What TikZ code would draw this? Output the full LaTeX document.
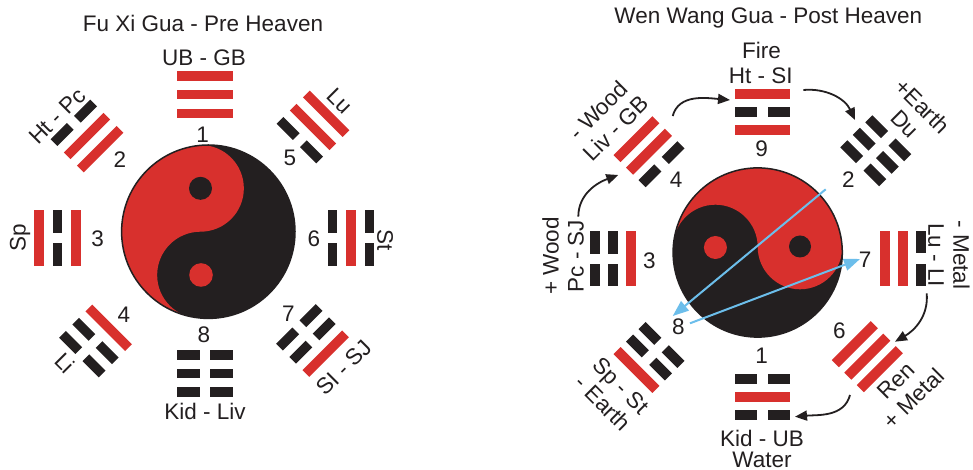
\documentclass[tikz,border=0pt]{standalone}
\usepackage{fontspec}
\setmainfont{Liberation Sans}
\usetikzlibrary{arrows.meta}
\definecolor{yangc}{RGB}{216,48,45}
\definecolor{yinc}{RGB}{35,31,32}
\definecolor{bluec}{RGB}{108,190,235}
\def\trgS{18.6}\def\trgT{4.75}\def\trgL{28}\def\trgG{5}
\newcommand{\trgbar}[2]{%
 \ifnum#2=1
  \fill[yangc] (-\trgL,{#1-\trgT}) -- (\trgL,{#1-\trgT}) -- (\trgL,{#1+\trgT}) -- (-\trgL,{#1+\trgT}) -- cycle;
 \else
  \fill[yinc] (-\trgL,{#1-\trgT}) -- (-\trgG,{#1-\trgT}) -- (-\trgG,{#1+\trgT}) -- (-\trgL,{#1+\trgT}) -- cycle;
  \fill[yinc] (\trgG,{#1-\trgT}) -- (\trgL,{#1-\trgT}) -- (\trgL,{#1+\trgT}) -- (\trgG,{#1+\trgT}) -- cycle;
 \fi}
\newcommand{\trigram}[6]{%
 \begin{scope}[shift={(#1,#2)},rotate=#3]
  \trgbar{-\trgS}{#4}\trgbar{0}{#5}\trgbar{\trgS}{#6}
 \end{scope}}
\begin{document}
\begin{tikzpicture}[x=1pt,y=1pt,
  lab/.style={font=\fontsize{22.5}{25}\selectfont, text=yinc, inner sep=0pt, align=center},
  blk/.style={draw=yinc, line width=1.8pt, -{Triangle[length=12pt,width=10pt]}},
  blu/.style={draw=bluec, line width=2pt, -{Triangle[length=16pt,width=12pt]}}]
\useasboundingbox (0,0) rectangle (973,470);
\fill[white] (0,0) rectangle (973,470);

% ---------- Left: Fu Xi Gua ----------
\begin{scope}
 \clip (208.3,238.3) circle (86.7);
 \fill[yinc] (208.3,238.3) circle (86.7);
 \fill[yangc] (200.5,325) arc[start angle=90,end angle=-90,radius=43.35]
   arc[start angle=90,end angle=270,radius=43.35] -- (100,151.6) -- (100,325) -- cycle;
\end{scope}
\fill[yinc] (200.5,281.65) circle (11.5);
\fill[yangc] (201,195) circle (11.8);
\draw[yinc, line width=1.5pt] (208.3,238.3) circle (86.7);

\trigram{204.5}{375.3}{0}{1}{1}{1}
\trigram{204.5}{96.5}{180}{0}{0}{0}
\trigram{57.5}{231.5}{90}{1}{0}{1}
\trigram{351}{231.5}{-90}{0}{1}{0}
\trigram{87}{334}{45}{1}{1}{0}
\trigram{313}{343}{-45}{0}{1}{1}
\trigram{95.5}{129}{135}{1}{0}{0}
\trigram{312.5}{129.5}{225}{0}{0}{1}

\node[lab] (t1) at (203,446.5) {Fu Xi Gua - Pre Heaven};
\node[lab] (l1) at (204,412.5) {UB - GB};
\node[lab] (l8) at (205,59) {Kid - Liv};
\node[lab,rotate=90] (l3) at (20,232) {Sp};
\node[lab,rotate=-90] (l6) at (385,230) {St};
\node[lab,rotate=45] (l2) at (57.3,354) {Ht - Pc};
\node[lab,rotate=-45] (l5) at (340,369.3) {Lu};
\node[lab,rotate=-45] (l4) at (65,107) {Li};
\node[lab,rotate=45] (l7) at (344,102.5) {SI - SJ};

\node[lab] (n1) at (202.7,335.7) {1};
\node[lab] (n2) at (120,310) {2};
\node[lab] (n3) at (97.7,231.7) {3};
\node[lab] (n4) at (124,155) {4};
\node[lab] (n5) at (290,311.7) {5};
\node[lab] (n6) at (314,231.7) {6};
\node[lab] (n7) at (288.3,156.7) {7};
\node[lab] (n8) at (204,135.7) {8};

% ---------- Right: Wen Wang Gua ----------
\begin{scope}
 \clip (757.7,217.5) circle (84.6);
 \fill[yinc] (757.7,217.5) circle (84.6);
 \fill[yangc] (842.3,223) arc[start angle=0,end angle=-180,radius=42.3]
   arc[start angle=0,end angle=180,radius=42.3] -- (673.1,330) -- (842.3,330) -- cycle;
\end{scope}
\fill[yinc] (800,223.5) circle (11);
\fill[yangc] (715.4,222.5) circle (11.5);
\draw[yinc, line width=1.5pt] (757.7,217.5) circle (84.6);

\def\trgS{17.7}\def\trgT{5}\def\trgL{27.5}\def\trgG{5.3}
\trigram{762.5}{358}{0}{1}{0}{1}
\trigram{762.5}{73}{180}{0}{1}{0}
\trigram{613}{211}{90}{1}{0}{0}
\trigram{903}{211.5}{-90}{1}{1}{0}
\trigram{649}{318.3}{45}{0}{1}{1}
\trigram{875.8}{319.2}{-45}{0}{0}{0}
\trigram{649}{112.5}{135}{0}{0}{1}
\trigram{867.3}{113.3}{225}{1}{1}{1}

\node[lab] (t2) at (768.3,451.7) {Wen Wang Gua - Post Heaven};
\node[lab] (r9a) at (761.5,419.2) {Fire};
\node[lab] (r9b) at (760.8,394.2) {Ht - SI};
\node[lab] (r1a) at (762,31.5) {Kid - UB};
\node[lab] (r1b) at (762,9.8) {Water};
\node[lab,rotate=45] (r4) at (607,350.7) {- Wood\\Liv - GB};
\node[lab,rotate=90] (r3) at (563,214) {+ Wood\\Pc - SJ};
\node[lab,rotate=-45] (r2) at (913.7,355) {+Earth\\Du};
\node[lab,rotate=-90] (r7) at (949,215) {- Metal\\Lu - LI};
\node[lab,rotate=45] (r6) at (905,80.3) {Ren\\+ Metal};
\node[lab,rotate=-45] (r8) at (612,75.5) {Sp - St\\- Earth};

\node[lab] (m9) at (761.7,321.7) {9};
\node[lab] (m2) at (848.3,290) {2};
\node[lab] (m4) at (676,290) {4};
\node[lab] (m3) at (649.3,209.3) {3};
\node[lab] (m7) at (865,210.7) {7};
\node[lab] (m8) at (678.3,143.3) {8};
\node[lab] (m6) at (839.3,139.3) {6};
\node[lab] (m1) at (761.7,114) {1};

% arrows
\coordinate (a1s) at (578.3,253.3); \coordinate (a1e) at (618.3,295);
\coordinate (a2s) at (672.7,354);   \coordinate (a2e) at (730,370);
\coordinate (a3s) at (803.3,380);   \coordinate (a3e) at (855,350);
\coordinate (a4s) at (926.7,176.7); \coordinate (a4e) at (895,128.3);
\coordinate (a5s) at (850,75);      \coordinate (a5e) at (795,53.3);
\draw[blk] (a1s) to[out=90,in=200] (a1e);
\draw[blk] (a2s) to[out=75,in=175] (a2e);
\draw[blk] (a3s) to[out=5,in=115] (a3e);
\draw[blk] (a4s) to[out=-85,in=30] (a4e);
\draw[blk] (a5s) to[out=-105,in=5] (a5e);

\coordinate (b1s) at (825.7,280.7); \coordinate (b1e) at (672.7,154);
\coordinate (b2s) at (690,146.7);   \coordinate (b2e) at (860,211);
\draw[blu] (b1s) -- (b1e);
\draw[blu] (b2s) -- (b2e);
\end{tikzpicture}
\end{document}
